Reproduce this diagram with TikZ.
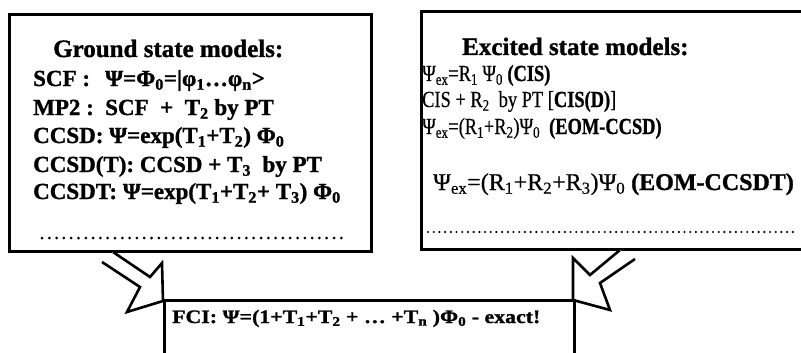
\documentclass[tikz,border=0pt]{standalone}
\usepackage{fontspec}
\setmainfont{Liberation Serif}[BoldFeatures={FakeBold=1.2}, UprightFeatures={FakeBold=0.5}]
\newfontfamily\widefont{Liberation Serif}[FakeStretch=1.15, BoldFeatures={FakeBold=1.2}]
\newcommand\lsub[1]{\textsubscript{#1}}
\newcommand\narrowtext[1]{\scalebox{0.8}[1]{#1}}
\begin{document}
\begin{tikzpicture}[x=1pt,y=-1pt,
  box/.style={draw=black, line width=3pt, fill=white, inner sep=0pt, anchor=north west},
  txt/.style={inner sep=0pt, anchor=base west, font=\fontsize{23}{26}\selectfont\bfseries},
  rtxt/.style={inner sep=0pt, anchor=base west, font=\fontsize{23}{26}\selectfont},
  rbig/.style={inner sep=0pt, anchor=base west, font=\fontsize{24}{27}\selectfont},
  ttl/.style={inner sep=0pt, anchor=base west, font=\fontsize{25}{28}\selectfont\bfseries},
  fcitxt/.style={inner sep=0pt, anchor=base west, font=\widefont\fontsize{19}{22}\selectfont\bfseries},
  blockarrow/.style={draw=black, line width=2.6pt, fill=white, line join=miter},
  dotsL/.style={line width=3pt, line cap=round, dash pattern=on 0pt off 7.3pt},
  dotsR/.style={line width=2.4pt, line cap=round, dash pattern=on 0pt off 5.7pt}]
\useasboundingbox (0,0) rectangle (801,353);
\clip (0,0) rectangle (801,353);
\fill[white] (0,0) rectangle (801,353);

% boxes
\node[box, minimum width=362pt, minimum height=237pt] (ground) at (8,13) {};
\node[box, minimum width=400pt, minimum height=238pt] (excited) at (420,10) {};

% arrows
\draw[blockarrow] (113,252) -- (150,277) -- (162,263) -- (163,301) -- (127,312) -- (140,287) -- (102,262);
\draw[blockarrow] (620,250) -- (590,275) -- (573,258) -- (573,300) -- (610,310) -- (600,283) -- (635,259);

\node[box, minimum width=410pt, minimum height=80pt] (fci) at (163,299) {};

% ground state text
\node[ttl] (gt) at (53,57) {Ground state models:};
\node[txt] (g1a) at (33,86) {SCF :};
\node[txt] (g1b) at (105,86) {Ψ=Φ\lsub{0}=|φ\lsub{1}…φ\lsub{n}>};
\node[txt] (g2a) at (33,115) {MP2 :};
\node[txt] (g2b) at (105,115) {SCF \ + \ T\lsub{2} by PT};
\node[txt] (g3) at (33,143) {CCSD: Ψ=exp(T\lsub{1}+T\lsub{2}) Φ\lsub{0}};
\node[txt] (g4) at (33,172) {CCSD(T): CCSD + T\lsub{3} \ by PT};
\node[txt] (g5) at (33,199) {CCSDT: Ψ=exp(T\lsub{1}+T\lsub{2}+ T\lsub{3}) Φ\lsub{0}};
\draw[dotsL] (42,238) -- (348,238);

% excited state text
\node[ttl] (et) at (462,55) {Excited state models:};
\node[rtxt] (e1) at (422,81) {\narrowtext{Ψ\lsub{ex}=R\lsub{1} Ψ\lsub{0} \textbf{(CIS)}}};
\node[rtxt] (e2) at (422,107) {\narrowtext{CIS + R\lsub{2} \ by PT [\textbf{CIS(D)}]}};
\node[rtxt] (e3) at (422,134) {\narrowtext{Ψ\lsub{ex}=(R\lsub{1}+R\lsub{2})Ψ\lsub{0} \ \textbf{(EOM-CCSD)}}};
\node[rbig] (e4) at (433,190) {Ψ\lsub{ex}=(R\lsub{1}+R\lsub{2}+R\lsub{3})Ψ\lsub{0} \textbf{(EOM-CCSDT)}};
\draw[dotsR] (428,232) -- (798,232);

% FCI text
\node[fcitxt] (f) at (172,323) {FCI: Ψ=(1+T\lsub{1}+T\lsub{2} + … +T\lsub{n} )Φ\lsub{0} - exact!};
\end{tikzpicture}
\end{document}
